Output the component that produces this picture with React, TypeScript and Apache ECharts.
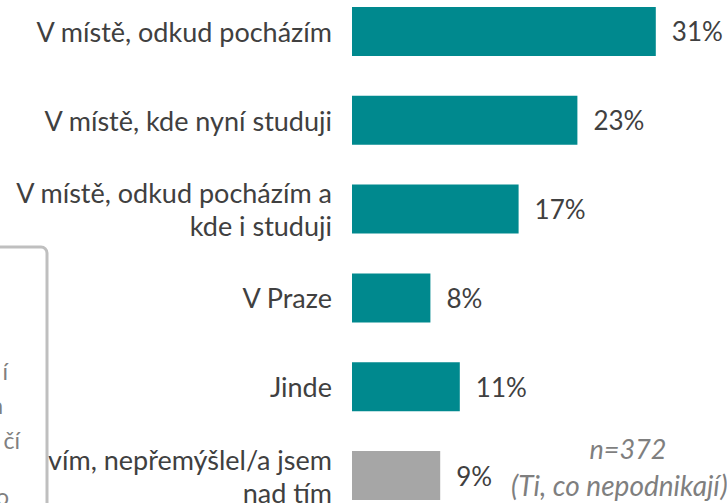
import React, { useEffect, useRef } from "react";
import * as echarts from "echarts";

const categories = [
  "V místě, odkud pocházím",
  "V místě, kde nyní studuji",
  "V místě, odkud pocházím a\nkde i studuji",
  "V Praze",
  "Jinde",
  "Nevím, nepřemýšlel/a jsem\nnad tím",
];
const values = [31, 23, 17, 8, 11, 9];
const barColors = ["#00898E", "#00898E", "#00898E", "#00898E", "#00898E", "#A6A6A6"];
const noteLines = ["n=372", "(Ti, co nepodnikají)"];
const boxFragments = ["í", "n", "čí", "o"];

const OFF = 20; // the chart div starts OFF px above the page top

export default function App() {
  const ref = useRef<HTMLDivElement>(null);
  useEffect(() => {
    if (!ref.current) return;
    const chart = echarts.init(ref.current, undefined, { renderer: "svg" });
    const font = "Lato";
    const fragPos = [
      { x: 8, y: 371 },
      { x: 3, y: 405 },
      { x: 20, y: 440 },
      { x: 9, y: 496 },
    ];
    chart.setOption({
      animation: false,
      backgroundColor: "#ffffff",
      grid: { left: 352, top: OFF - 13, width: 343, height: 533, containLabel: false },
      xAxis: { type: "value", min: 0, max: 35, show: false },
      yAxis: {
        type: "category",
        inverse: true,
        data: categories,
        axisLine: { show: false },
        axisTick: { show: false },
        splitLine: { show: false },
        axisLabel: {
          margin: 20,
          fontFamily: font,
          fontSize: 27,
          lineHeight: 33,
          color: "#404040",
          align: "right",
        },
      },
      series: [
        {
          type: "bar",
          barWidth: 49,
          data: values.map((v, i) => ({ value: v, itemStyle: { color: barColors[i] } })),
          label: {
            show: true,
            position: "right",
            distance: 16,
            formatter: "{c}%",
            fontFamily: font,
            fontSize: 26,
            color: "#404040",
          },
        },
      ],
      graphic: [
        {
          type: "rect",
          z: 100,
          shape: { x: -300, y: 247 + OFF, width: 347, height: 400, r: 6 },
          style: { fill: "#ffffff", stroke: "#BFBFBF", lineWidth: 3 },
        },
        ...boxFragments.map((t, i) => ({
          type: "text",
          z: 101,
          x: fragPos[i].x,
          y: fragPos[i].y + OFF,
          style: {
            text: t,
            fill: "#808080",
            font: `23px ${font}`,
            textAlign: "right",
            textVerticalAlign: "middle",
          },
        })),
        {
          type: "text",
          z: 101,
          x: 628,
          y: 448 + OFF,
          style: {
            text: noteLines[0],
            fill: "#7F7F7F",
            font: `italic 27px ${font}`,
            textAlign: "center",
            textVerticalAlign: "middle",
          },
        },
        {
          type: "text",
          z: 101,
          x: 511,
          y: 485 + OFF,
          style: {
            text: noteLines[1],
            fill: "#7F7F7F",
            font: `italic 28px ${font}`,
            textAlign: "left",
            textVerticalAlign: "middle",
          },
        },
      ],
    });
    return () => chart.dispose();
  }, []);
  return (
    <div
      ref={ref}
      style={{ position: "fixed", left: 0, top: -OFF, width: 727, height: 503 + 2 * OFF }}
    />
  );
}
